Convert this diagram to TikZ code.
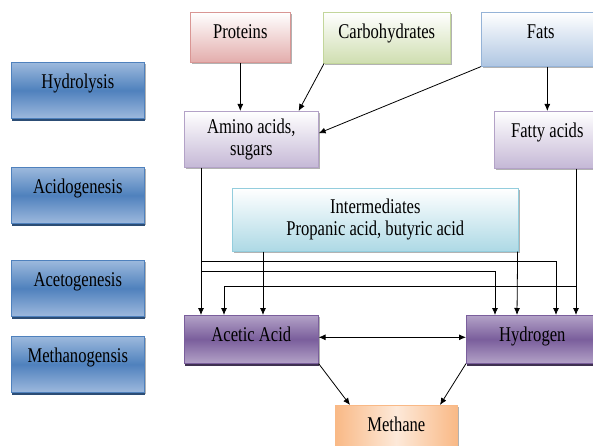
\documentclass[tikz,border=0pt]{standalone}
\usepackage{fontspec}
\setmainfont[FakeStretch=0.79]{Liberation Serif}
\usetikzlibrary{calc,shadows,arrows.meta}

\definecolor{stagemid}{HTML}{4F81BD}
\definecolor{stagelight}{HTML}{9DB9DD}
\definecolor{stagedark}{HTML}{2C4D75}
\definecolor{pinkedge}{HTML}{D99694}
\definecolor{pinkfill}{HTML}{E3ADAC}
\definecolor{greenedge}{HTML}{C3D69B}
\definecolor{greenfill}{HTML}{CFDEB0}
\definecolor{blueedge}{HTML}{95B3D7}
\definecolor{bluefill}{HTML}{AFC6E2}
\definecolor{lavedge}{HTML}{B3A2C7}
\definecolor{lavfill}{HTML}{C5B8D6}
\definecolor{cyanedge}{HTML}{93CDDD}
\definecolor{cyanfill}{HTML}{ADD9E5}
\definecolor{purplemid}{HTML}{7A5E9C}
\definecolor{purplelight}{HTML}{B3A2C7}
\definecolor{purpledark}{HTML}{3F3151}
\definecolor{orangefill}{HTML}{F9B986}
\definecolor{orangelight}{HTML}{FDE9D9}

\begin{document}
\begin{tikzpicture}[x=1pt, y=-1pt, font=\fontsize{21}{22}\selectfont,
    box/.style={rectangle, anchor=north west, inner sep=0pt, line width=0.6pt,
      drop shadow={shadow xshift=1.5pt, shadow yshift=-2pt, fill=black!60}},
    oneline/.style={text height=26pt, text depth=#1},
    stagebox/.style={box, draw=stagemid, top color=stagelight, bottom color=stagelight,
      middle color=stagemid, minimum width=133pt, oneline=30pt,
      drop shadow={shadow xshift=1pt, shadow yshift=-2.5pt, fill=stagedark, opacity=1}},
    acidbox/.style={box, draw=purplemid, top color=purplelight, bottom color=purplelight,
      middle color=purplemid, oneline=22pt,
      drop shadow={shadow xshift=1pt, shadow yshift=-2.5pt, fill=purpledark, opacity=1}},
    arr/.style={line width=0.8pt, -{Latex[length=7pt,width=6pt]}},
    biarr/.style={line width=0.8pt, {Latex[length=7pt,width=6pt]}-{Latex[length=7pt,width=6pt]}}]
  \useasboundingbox (0,0) rectangle (593,446);

  % stages on the left
  \foreach \stage/\y in {Hydrolysis/62, Acidogenesis/167, Acetogenesis/260, Methanogensis/336}{
    \node[stagebox] (\stage) at (11,\y) {\stage};
  }

  % substrates
  \node[box, draw=pinkedge, top color=white, bottom color=pinkfill, minimum width=100pt, oneline=24pt] (proteins) at (190,12) {Proteins};
  \node[box, draw=greenedge, top color=white, bottom color=greenfill, minimum width=127pt, oneline=25pt] (carbs) at (323,12) {Carbohydrates};
  \node[box, draw=blueedge, top color=white, bottom color=bluefill, minimum width=119pt, oneline=28pt] (fats) at (481,12) {Fats};

  \node[box, draw=lavedge, top color=white, bottom color=lavfill, minimum width=134pt, minimum height=56pt, align=center] (amino) at (184,111) {Amino acids,\\sugars};
  \node[box, draw=lavedge, top color=white, bottom color=lavfill, minimum width=106pt, oneline=31pt] (fatty) at (494,111) {Fatty acids};

  \node[box, draw=cyanedge, top color=white, bottom color=cyanfill, minimum width=286pt, minimum height=63pt, align=center] (inter) at (232,188) {Intermediates\\Propanic acid, butyric acid};

  \node[acidbox, minimum width=134pt] (acetic) at (184,315) {Acetic Acid};
  \node[acidbox, minimum width=132pt] (hydrogen) at (466,315) {Hydrogen};

  \node[box, draw=orangefill, left color=orangefill, right color=orangefill, middle color=orangelight, minimum width=122pt, oneline=22pt] (methane) at (335,405) {Methane};

  % hydrolysis
  \draw[arr] (proteins.south) -- (proteins.south |- amino.north);
  \draw[arr] ([xshift=1pt]carbs.south west) -- ([xshift=-20pt]amino.north east);
  \draw[arr] (fats.south west) -- ([yshift=6pt]amino.east);
  \draw[arr] (fats.south -| fatty.north) -- (fatty.north);

  % towards acetic acid and hydrogen
  \coordinate (sugarsA) at (201,261);
  \coordinate (sugarsB) at (201,271);
  \coordinate (fattyC) at (576,286);
  \draw[arr] ([xshift=17pt]amino.south west) -- ([xshift=17pt]acetic.north west);
  \draw[arr] (sugarsA) -| ([xshift=90pt]hydrogen.north west);
  \draw[arr] (sugarsB) -| ([xshift=29pt]hydrogen.north west);
  \draw[arr] ([xshift=82pt]fatty.south west) -- ([xshift=110pt]hydrogen.north west);
  \draw[arr] (fattyC) -| ([xshift=40pt]acetic.north west);
  \draw[arr] ([xshift=31pt]inter.south west) -- ([xshift=79pt]acetic.north west);
  \draw[arr] ([xshift=-1pt]inter.south east) -- ([xshift=51pt]hydrogen.north west);

  % methanogenesis
  \draw[biarr] ([yshift=2pt]acetic.east) -- ([yshift=2pt]hydrogen.west);
  \draw[arr] (acetic.south east) -- ([xshift=15pt]methane.north west);
  \draw[arr] (hydrogen.south west) -- ([xshift=105pt]methane.north west);
\end{tikzpicture}
\end{document}
